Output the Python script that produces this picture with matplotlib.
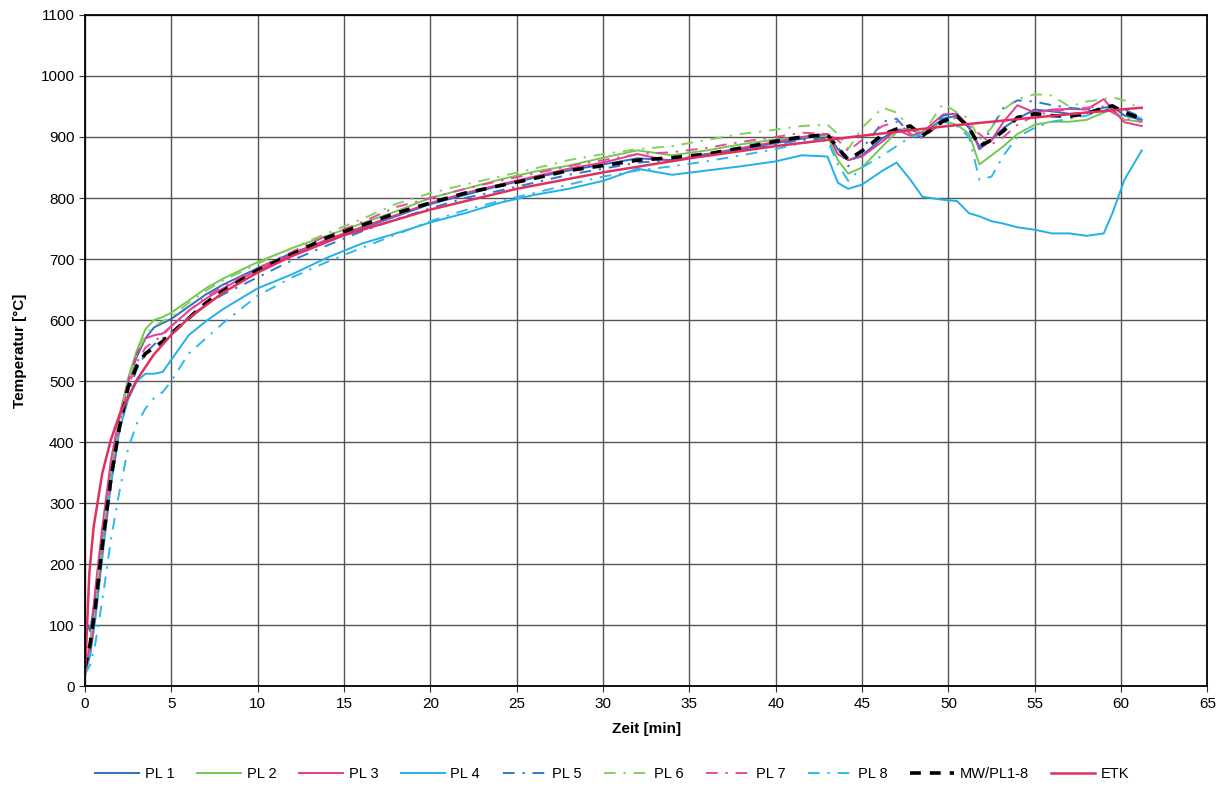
import matplotlib.pyplot as plt

plt.rcParams['font.family'] = ['Liberation Sans', 'DejaVu Sans']

# Zeitachse der Messreihen [min]
t = [0, 0.3, 0.6, 1, 1.5, 2, 2.5, 3, 3.5, 4, 4.5, 5, 6, 7, 8, 10, 12, 14, 16, 18,
     20, 22, 24, 26, 28, 30, 32, 34, 36, 38, 40, 41.5, 43, 43.6, 44.2, 45, 46.2, 47,
     47.8, 48.5, 49.7, 50.5, 51.2, 51.8, 52.5, 53.2, 54, 55, 56, 57, 58, 59, 59.5,
     60.2, 61.2]

pl1 = [110, 90, 150, 250, 360, 440, 500, 540, 570, 588, 595, 602, 622, 642, 658, 685,
       710, 730, 750, 770, 790, 805, 820, 833, 845, 855, 865, 862, 870, 880, 890, 897,
       905, 880, 862, 870, 898, 912, 912, 905, 930, 935, 915, 885, 895, 915, 930, 945,
       942, 938, 940, 948, 950, 935, 928]
pl2 = [30, 60, 130, 230, 350, 440, 505, 550, 585, 600, 605, 612, 632, 652, 668, 695,
       718, 738, 758, 778, 800, 815, 830, 843, 853, 866, 878, 870, 878, 888, 896, 900,
       902, 862, 840, 850, 885, 908, 915, 905, 926, 920, 905, 855, 870, 885, 905, 920,
       925, 925, 928, 940, 945, 928, 925]
pl3 = [25, 70, 160, 260, 370, 445, 500, 545, 570, 575, 578, 590, 615, 635, 652, 682,
       708, 732, 752, 772, 792, 808, 822, 835, 848, 858, 872, 860, 872, 882, 892, 900,
       905, 872, 862, 868, 893, 912, 902, 908, 937, 938, 918, 880, 895, 925, 952, 940,
       945, 946, 945, 962, 945, 924, 918]
pl4 = [20, 50, 110, 210, 330, 420, 470, 500, 512, 512, 515, 535, 575, 598, 618, 652,
       675, 702, 725, 742, 760, 775, 792, 805, 815, 828, 848, 838, 845, 852, 860, 870,
       868, 825, 815, 822, 845, 858, 830, 802, 797, 795, 775, 770, 762, 758, 752, 748,
       742, 742, 738, 742, 775, 830, 878]
pl5 = [30, 60, 120, 220, 330, 420, 480, 520, 545, 560, 570, 580, 605, 625, 642, 670,
       698, 722, 745, 765, 783, 800, 812, 825, 838, 848, 858, 862, 872, 880, 888, 895,
       898, 885, 852, 880, 925, 930, 905, 900, 935, 938, 915, 880, 915, 948, 960, 958,
       952, 948, 945, 942, 950, 945, 932]
pl6 = [30, 70, 140, 240, 350, 440, 500, 545, 575, 590, 598, 605, 628, 648, 665, 692,
       718, 742, 765, 790, 808, 822, 835, 848, 862, 872, 880, 885, 895, 905, 912, 918,
       920, 905, 880, 915, 948, 940, 915, 905, 955, 940, 930, 895, 915, 945, 962, 970,
       968, 950, 958, 962, 965, 960, 945]
pl7 = [25, 55, 120, 220, 340, 430, 490, 530, 555, 565, 575, 590, 615, 638, 655, 685,
       712, 738, 760, 785, 800, 815, 828, 840, 852, 862, 872, 875, 882, 892, 900, 907,
       905, 895, 877, 895, 918, 925, 905, 898, 925, 932, 918, 905, 888, 900, 920, 935,
       942, 945, 948, 950, 940, 930, 925]
pl8 = [20, 35, 70, 140, 240, 320, 390, 430, 455, 472, 482, 500, 545, 570, 595, 640,
       670, 695, 718, 740, 762, 780, 795, 808, 822, 835, 845, 852, 860, 870, 880, 890,
       895, 855, 828, 850, 870, 885, 900, 905, 925, 918, 900, 830, 835, 870, 900, 915,
       925, 930, 935, 945, 950, 940, 930]
mw = [30, 70, 130, 230, 340, 425, 490, 525, 545, 555, 565, 578, 603, 628, 648, 682,
      708, 735, 755, 775, 792, 808, 820, 832, 845, 853, 862, 866, 872, 882, 893, 900,
      904, 882, 863, 877, 904, 913, 918, 902, 926, 934, 915, 885, 895, 910, 932, 938,
      935, 934, 938, 948, 951, 940, 930]

# Einheits-Temperaturzeitkurve
t_etk = [0, 0.25, 0.5, 1, 1.5, 2, 3, 4, 5, 6, 8, 10, 12, 15, 20, 25, 30, 35, 40, 45,
         50, 55, 60, 61.2]
etk = [20, 185, 261, 349, 404, 445, 502, 544, 576, 603, 645, 678, 705, 739, 781, 815,
       842, 865, 885, 902, 918, 932, 945, 948]

dashdot = (0, (6, 4, 1.2, 4))

fig = plt.figure(figsize=(12.32, 7.86), dpi=100)
ax = fig.add_axes([0.069, 0.127, 0.911, 0.854])

ax.plot(t, pl1, color='#2e6fc0', lw=1.4, label='PL 1')
ax.plot(t, pl2, color='#74c850', lw=1.4, label='PL 2')
ax.plot(t, pl3, color='#e63a92', lw=1.4, label='PL 3')
ax.plot(t, pl4, color='#22b0e8', lw=1.4, label='PL 4')
ax.plot(t, pl5, color='#2e7ad0', lw=1.4, ls=dashdot, label='PL 5')
ax.plot(t, pl6, color='#84d060', lw=1.4, ls=dashdot, label='PL 6')
ax.plot(t, pl7, color='#e84a9c', lw=1.4, ls=dashdot, label='PL 7')
ax.plot(t, pl8, color='#30b8ee', lw=1.4, ls=dashdot, label='PL 8')
ax.plot(t, mw, color='black', lw=2.6, ls=(0, (3, 2.5)), label='MW/PL1-8')
ax.plot(t_etk, etk, color='#e0305e', lw=1.8, label='ETK')

ax.set_xlim(0, 65)
ax.set_ylim(0, 1100)
ax.set_xticks(range(0, 66, 5))
ax.set_yticks(range(0, 1101, 100))
ax.grid(True, color='#555555', lw=1)
ax.tick_params(direction='out', length=4, labelsize=11, color='#333333')
for s in ax.spines.values():
    s.set_linewidth(1.3)

ax.set_xlabel('Zeit [min]', fontsize=11, fontweight='bold', labelpad=8)
ax.set_ylabel('Temperatur [°C]', fontsize=11, fontweight='bold', labelpad=10)

fig.legend(loc='lower center', bbox_to_anchor=(0.497, -0.01), ncol=10, frameon=False,
           fontsize=10.5, handlelength=3.0, handletextpad=0.4, columnspacing=1.55)

fig.savefig('out.png', dpi=100)
